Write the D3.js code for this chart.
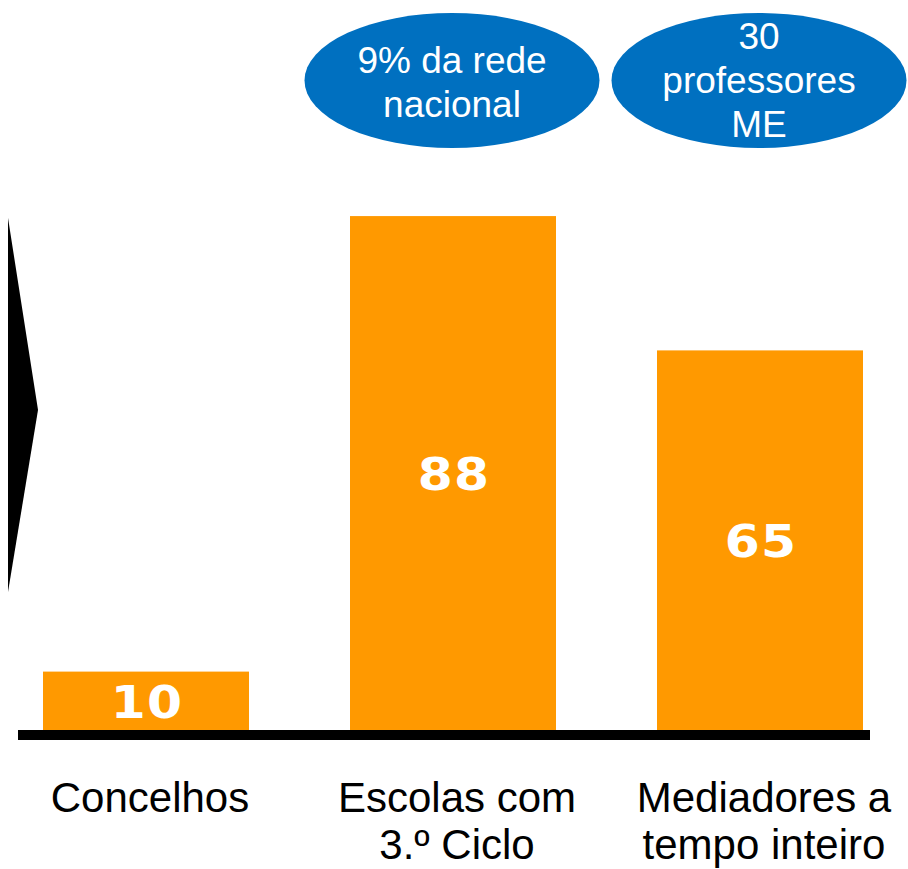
<!DOCTYPE html>
<html>
<head>
<meta charset="utf-8">
<script src="https://cdn.jsdelivr.net/npm/d3@7"></script>
<style>
  html, body { margin: 0; padding: 0; background: #fff; }
  text { font-family: "Liberation Sans", Arial, Helvetica, sans-serif; }
</style>
</head>
<body>
<div id="chart"></div>
<script>
const width = 908
const height = 869

// data
const categories = ["Concelhos", "Escolas com 3.º Ciclo", "Mediadores a tempo inteiro"]
const categoryLines = [["Concelhos"], ["Escolas com", "3.º Ciclo"], ["Mediadores a", "tempo inteiro"]]
const values = [10, 88, 65]
const callouts = [null, ["9% da rede", "nacional"], ["30", "professores", "ME"]]

const orange = "#ff9900"
const blue = "#0070c0"

const svg = d3.select("#chart")
              .append("svg")
              .attr("width", width)
              .attr("height", height)

const x = d3.scaleBand()
            .domain(categories)
            .range([43, 863])
            .paddingInner(0.329)
            .paddingOuter(0)

const y = d3.scaleLinear()
            .domain([0, 100])
            .range([730, 146])

// left arrow shape
svg.append("path")
   .attr("d", "M8,218 L38,410 L8,592 Z")
   .attr("fill", "#000")

// bars
svg.selectAll("rect.bar")
   .data(values)
   .enter()
   .append("rect")
   .attr("class", "bar")
   .attr("x", (d, i) => x(categories[i]))
   .attr("y", d => y(d))
   .attr("width", x.bandwidth())
   .attr("height", d => y(0) - y(d))
   .attr("fill", orange)

// value labels, centred in the bars (stretched a little, like the original)
svg.selectAll("text.value")
   .data(values)
   .enter()
   .append("text")
   .attr("class", "value")
   .attr("transform", (d, i) => "translate(" + (x(categories[i]) + x.bandwidth() / 2 + 1) + "," + ((y(d) + y(0)) / 2 + 17) + ") scale(1.12,1)")
   .attr("text-anchor", "middle")
   .style("font-family", "'DejaVu Sans', sans-serif")
   .style("font-weight", "bold")
   .style("font-size", "45px")
   .style("letter-spacing", "1px")
   .attr("fill", "#fff")
   .text(d => d)

// baseline
svg.append("rect")
   .attr("x", 18)
   .attr("y", y(0))
   .attr("width", 852)
   .attr("height", 10)
   .attr("fill", "#000")

// category labels
categoryLines.forEach((lines, i) => {
  const cx = x(categories[i]) + x.bandwidth() / 2 + 4
  const t = svg.append("text")
               .attr("text-anchor", "middle")
               .style("font-size", "42px")
               .attr("fill", "#000")
  lines.forEach((l, j) => {
    t.append("tspan")
     .attr("x", cx)
     .attr("y", 812 + j * 47)
     .text(l)
  })
})

// blue callout ellipses
callouts.forEach((lines, i) => {
  if (!lines) return
  const cx = x(categories[i]) + x.bandwidth() / 2 - 1
  const cy = 80.5
  svg.append("ellipse")
     .attr("cx", cx)
     .attr("cy", cy)
     .attr("rx", 147.5)
     .attr("ry", 67.5)
     .attr("fill", blue)
  const lh = 44
  const first = cy + 13 - (lines.length - 1) * lh / 2 + (lines.length === 2 ? 1 : -1)
  const t = svg.append("text")
               .attr("text-anchor", "middle")
               .style("font-size", "37px")
               .attr("fill", "#fff")
  lines.forEach((l, j) => {
    t.append("tspan")
     .attr("x", cx)
     .attr("y", first + j * lh)
     .text(l)
  })
})
</script>
</body>
</html>
